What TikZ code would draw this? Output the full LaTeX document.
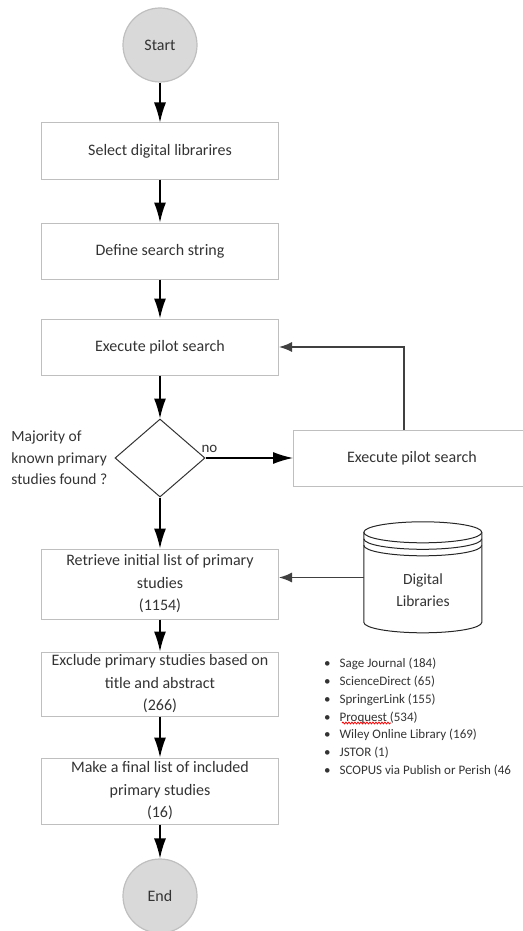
\documentclass[tikz,border=0pt]{standalone}
\usepackage{fontspec}
\setmainfont{Carlito}
\usepackage{tikz}
\usetikzlibrary{positioning}
\usetikzlibrary{arrows.meta}
\usetikzlibrary{shapes.geometric}
\usetikzlibrary{decorations.pathmorphing}

\begin{document}
\begin{tikzpicture}[x=1pt, y=1pt, node distance=100pt,
    txt/.style = {text=black!80, font=\fontsize{16}{22.5}\selectfont},
    term/.style = {txt, draw=black!25, fill=black!15, line width=1.2pt, circle, minimum size=74pt, inner sep=0pt},
    proc/.style = {txt, draw=black!25, line width=1pt, minimum width=237pt, minimum height=56pt, align=center, inner sep=1pt},
    decide/.style = {draw=black!80, line width=1pt, diamond, minimum width=90pt, minimum height=78pt, inner sep=0pt},
    arrow/.style = {-{Latex[length=20pt, width=12pt]}, line width=1.3pt},
    garrow/.style = {-{Latex[length=13pt, width=10pt]}, line width=1.4pt, draw=black!75},
    cyl/.style = {draw=black!85, line width=1pt}]
    \useasboundingbox (0,0) rectangle (522,-931);

    \node[term] (start) at (160,-45) {Start};
    \node[proc] (select) [below of=start, node distance=106pt] {Select digital librarires};
    \node[proc] (define) [below of=select] {Define search string};
    \node[proc] (pilot) [below of=define, node distance=96pt] {Execute pilot search};
    \node[decide] (found) [below of=pilot, node distance=111pt] {};
    \node[txt, font=\fontsize{15.5}{21.5}\selectfont, align=left, inner sep=0pt] (question) [left=7pt of found] {Majority of\\known primary\\studies found ?};
    \node[txt, font=\fontsize{15}{18}\selectfont, inner sep=1pt] (no) [above=4pt of found.east, xshift=4pt] {no};
    \node[proc] (pilotb) at (412,-458) {Execute pilot search};
    \node[proc, minimum height=70pt] (retrieve) [below of=found, node distance=126pt] {Retrieve initial list of primary\\studies\\(1154)};
    \node[proc, minimum height=64pt] (exclude) [below of=retrieve] {Exclude primary studies based on\\title and abstract\\(266)};
    \node[proc, minimum height=66pt] (final) [below of=exclude, node distance=107pt] {Make a final list of included\\primary studies\\(16)};
    \node[term] (end) [below of=final, node distance=105pt] {End};

    % digital libraries store
    \node[txt, minimum width=118pt, minimum height=111pt, inner sep=0pt,
        label={[txt, font=\fontsize{15.5}{22}\selectfont, align=center, yshift=-13pt]center:Digital\\Libraries}] (lib) at (423,-577.5) {};
    \draw[cyl] (lib.north west) ++(0,-10.5) arc[start angle=180, end angle=0, x radius=59pt, y radius=10.5pt]
        -- ++(0,-90) arc[start angle=0, end angle=-180, x radius=59pt, y radius=10.5pt] -- cycle;
    \draw[cyl] (lib.north west) ++(0,-10.5) arc[start angle=180, end angle=360, x radius=59pt, y radius=10.5pt];
    \draw[cyl] (lib.north west) ++(0,-17) arc[start angle=180, end angle=360, x radius=59pt, y radius=10.5pt];
    \draw[cyl] (lib.north west) ++(0,-23.5) arc[start angle=180, end angle=360, x radius=59pt, y radius=10.5pt];

    \node[txt, font=\fontsize{13}{17.8}\selectfont, align=left, anchor=north west, inner sep=0pt] (dbs) at (324,-658) {%
        \textbullet\hspace{9pt}Sage Journal (184)\\
        \textbullet\hspace{9pt}ScienceDirect (65)\\
        \textbullet\hspace{9pt}SpringerLink (155)\\
        \textbullet\hspace{9pt}Proquest (534)\\
        \textbullet\hspace{9pt}Wiley Online Library (169)\\
        \textbullet\hspace{9pt}JSTOR (1)\\
        \textbullet\hspace{9pt}SCOPUS via Publish or Perish (46};
    \draw[red, line width=0.8pt, decorate, decoration={snake, amplitude=0.9pt, segment length=3pt}] (342,-723) -- (391,-723);

    \coordinate (loop) at (404,-347);

    \draw[arrow] (start) -- (select);
    \draw[arrow] (select) -- (define);
    \draw[arrow] (define) -- (pilot);
    \draw[arrow] (pilot) -- (found);
    \draw[arrow] (found) -- (pilotb);
    \draw[garrow] (loop |- pilotb.north) |- (pilot);
    \draw[arrow] (found) -- (retrieve);
    \draw[garrow] (lib.west) -- (lib.west -| retrieve.east);
    \draw[arrow] (retrieve) -- (exclude);
    \draw[arrow] (exclude) -- (final);
    \draw[arrow] (final) -- (end);
\end{tikzpicture}
\end{document}
